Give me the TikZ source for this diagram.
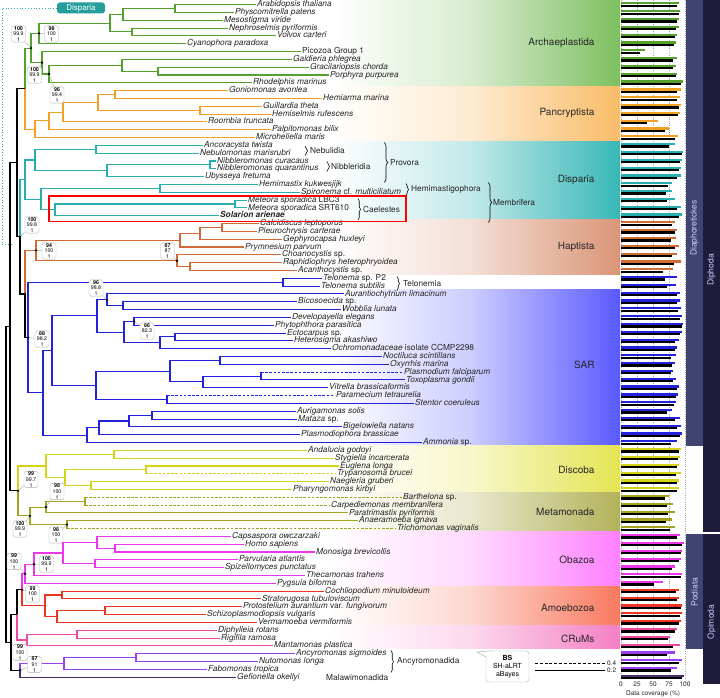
\documentclass[tikz,border=0pt]{standalone}
\usepackage{fontspec}
\setmainfont{TeX Gyre Heros}
\usetikzlibrary{calc,decorations.pathreplacing}

% line colours
\definecolor{carc}{HTML}{56A02E}
\definecolor{cpan}{HTML}{F2A024}
\definecolor{cdis}{HTML}{28AEAE}
\definecolor{chap}{HTML}{D06A36}
\definecolor{csar}{HTML}{2222DC}
\definecolor{cdsc}{HTML}{D4D414}
\definecolor{cmet}{HTML}{A3A322}
\definecolor{coba}{HTML}{EC36EC}
\definecolor{camo}{HTML}{EC3522}
\definecolor{ccru}{HTML}{EC4AA2}
\definecolor{canc}{HTML}{9A40EE}
\definecolor{cmal}{HTML}{4B2D6B}
% band colours
\definecolor{barc}{HTML}{7DC060}
\definecolor{bpan}{HTML}{F9BC68}
\definecolor{bdis}{HTML}{38B7B7}
\definecolor{bhap}{HTML}{DA9577}
\definecolor{bsar}{HTML}{5A5AFF}
\definecolor{bdsc}{HTML}{E4E453}
\definecolor{bmet}{HTML}{B2B25A}
\definecolor{boba}{HTML}{FF80FF}
\definecolor{bamo}{HTML}{F9795F}
\definecolor{bcru}{HTML}{F57FC3}
\definecolor{slate}{HTML}{3F4470}
\definecolor{navy}{HTML}{1F1C3B}

\tikzset{
  leaf/.style={anchor=west, inner xsep=1pt, inner ysep=0pt, text height=5.8pt, text depth=1.6pt, text=black!85, font=\fontsize{8.3}{9}\selectfont\itshape},
  branch/.style={line width=1.05pt},
  covbar/.style={line width=2.2pt},
  gridline/.style={gray!70, line width=0.4pt, dash pattern=on 0.6pt off 1.6pt},
  grp/.style={anchor=east, text=black!85, font=\fontsize{10}{12}\selectfont},
  clab/.style={anchor=west, inner sep=0pt, text=black!85, font=\fontsize{8.3}{10}\selectfont},
  axlab/.style={inner sep=0pt, text=black!85, font=\fontsize{6.5}{8}\selectfont},
  brc/.style={decorate, decoration={brace, amplitude=#1}, line width=0.6pt},
  brc/.default=2.5pt,
  supbox/.style={draw=gray!60, fill=white, rounded corners=1.8pt, inner sep=0.6pt, minimum width=14pt, align=center, font=\fontsize{5.3}{5.6}\selectfont},
  suptail/.style={gray!60, line width=0.5pt},
  sidelab/.style={rotate=90, text=white!80!blue, font=\fontsize{8.5}{10}\selectfont},
  tip pfal/.style={dash pattern=on 2.6pt off 1.6pt},
  tip pmec/.style={dash pattern=on 2.6pt off 1.6pt},
  tip tryp/.style={dash pattern=on 2.6pt off 1.6pt},
  tip bart/.style={dash pattern=on 2.6pt off 1.6pt},
  tip carp/.style={dash pattern=on 2.6pt off 1.6pt},
  tip tric/.style={dash pattern=on 2.6pt off 1.6pt}
}

% internal node: name, x, first child, second child, colour of each branch
\newcommand\mkclade[6]{%
  \path let \p1=(#3), \p2=(#4) in coordinate (#1) at (#2pt,{(\y1+\y2)/2});
  \draw[branch, #5, line cap=rect] (#1) -- (#1 |- #3);
  \draw[branch, #5, tip #3/.try] (#1 |- #3) -- (#3);
  \draw[branch, #6, line cap=rect] (#1) -- (#1 |- #4);
  \draw[branch, #6, tip #4/.try] (#1 |- #4) -- (#4);}

% support callout: node, box position, BS, SH-aLRT, aBayes
\newcommand\mksup[5]{%
  \node[supbox] (sup#1) at (#2) {\textbf{#3}\\#4\\#5};
  \draw[suptail] (sup#1) -- (#1);
  \fill (#1) circle (1.3pt);}

% group band with fading colour
\newcommand\mkband[3]{%
  \shade[left color=white, right color=#3!30] (330,#1) rectangle (470.5,#2);
  \shade[left color=#3!30, right color=#3] (470,#1) rectangle (620,#2);}

\begin{document}
\begin{tikzpicture}[x=1pt, y=-1pt]
\useasboundingbox (0,0) rectangle (720,698);

% Bands
\mkband{0}{86.6}{barc}
\mkband{86.6}{141.3}{bpan}
\mkband{141.3}{219.4}{bdis}
\mkband{219.4}{274}{bhap}
\mkband{289.7}{445.9}{bsar}
\mkband{445.9}{492.7}{bdsc}
\mkband{492.7}{531.8}{bmet}
\mkband{531.8}{586.5}{boba}
\mkband{586.5}{625.5}{bamo}
\mkband{625.5}{648.9}{bcru}

% Coverage grid
\foreach \v in {0,25,50,75,100}
  \draw[gridline] ({621+0.64*\v},0) -- ({621+0.64*\v},679);

% Disparia alternative position
\node[fill=cdis!90!black, text=white, rounded corners=3pt, minimum width=48pt, minimum height=11pt, inner sep=0pt, font=\fontsize{8}{9}\selectfont] (dlab) at (81,8) {Disparia};
\coordinate (dend) at (12,244);
\draw[cdis, line width=0.8pt, dash pattern=on 0.8pt off 2pt] (dlab.west) -| (2,244) -- (dend);

% Leaves and coverage bars
\foreach [count=\i] \nm/\tx/\lab/\col/\va/\vb in {%
arab/256/Arabidopsis thaliana/carc/90/88,%
phys/234/Physcomitrella patens/carc/92/90,%
meso/223/Mesostigma viride/carc/90/88,%
neph/228/Nephroselmis pyriformis/carc/91/86,%
volv/276/Volvox carteri/carc/88/84,%
cyan/186/Cyanophora paradoxa/carc/86/83,%
pico/301/\upshape Picozoa Group 1/carc/37/30,%
gald/292/Galdieria phlegrea/carc/87/82,%
grac/309/Gracilariopsis chorda/carc/86/82,%
porp/329/Porphyra purpurea/carc/88/86,%
rhod/252/Rhodelphis marinus/carc/97/94,%
goni/228/Goniomonas avonlea/cpan/93/88,%
hemi/322/Hemiarma marina/cpan/92/87,%
guil/262/Guillardia theta/cpan/94/90,%
hsel/271/Hemiselmis rufescens/cpan/92/89,%
room/207/Roombia truncata/cpan/58/40,%
palp/271/Palpitomonas bilix/cpan/75/69,%
micr/255/Microheliella maris/cpan/89/85,%
anco/203/Ancoracysta twista/cdis/85/75,%
nebu/199/Nebulomonas marisrubri/cdis/97/95,%
nib1/216/Nibbleromonas curacaus/cdis/95/92,%
nib2/216/Nibbleromonas quarantinus/cdis/94/90,%
ubys/204/Ubysseya fretuma/cdis/93/88,%
hmas/258/Hemimastix kukwesjijk/cdis/80/74,%
spir/300/Spironema \upshape cf. \itshape multiciliatum/cdis/80/70,%
met1/247/Meteora sporadica \upshape LBC3/cdis/84/72,%
met2/247/Meteora sporadica \upshape SRT610/cdis/93/88,%
sola/219/\bfseries Solarion arienae/cdis/95/90,%
calc/259/Calcidiscus leptoporus/chap/85/80,%
pleu/257/Pleurochrysis carterae/chap/88/84,%
geph/282/Gephyrocapsa huxleyi/chap/86/78,%
prym/244/Prymnesium parvum/chap/90/85,%
choa/281/Choanocystis \upshape sp./chap/88/80,%
raph/282/Raphidiophrys heterophryoidea/chap/93/83,%
acan/297/Acanthocystis \upshape sp./chap/82/66,%
tel1/322/Telonema \upshape sp. P2/csar/87/69,%
tel2/320/Telonema subtilis/csar/86/72,%
aura/344/Aurantiochytrium limacinum/csar/92/88,%
bico/297/Bicosoecida \upshape sp./csar/92/88,%
wobb/341/Wobblia lunata/csar/94/89,%
deve/291/Developayella elegans/csar/96/92,%
phyt/274/Phytophthora parasitica/csar/97/95,%
ecto/286/Ectocarpus \upshape sp./csar/96/92,%
hete/293/Heterosigma akashiwo/csar/90/85,%
ochr/331/Ochromonadaceae \upshape isolate CCMP2298/csar/88/84,%
noct/382/Noctiluca scintillans/csar/86/78,%
oxyr/389/Oxyrrhis marina/csar/84/80,%
pfal/403/Plasmodium falciparum/csar/82/78,%
toxo/405/Toxoplasma gondii/csar/86/82,%
vitr/328/Vitrella brassicaformis/csar/91/88,%
pmec/335/Paramecium tetraurelia/csar/89/86,%
sten/414/Stentor coeruleus/csar/86/83,%
auri/296/Aurigamonas solis/csar/80/72,%
mata/297/Mataza \upshape sp./csar/92/85,%
bige/342/Bigelowiella natans/csar/94/88,%
pbra/300/Plasmodiophora brassicae/csar/96/92,%
ammo/422/Ammonia \upshape sp./csar/88/78,%
anda/307/Andalucia godoyi/cdsc/94/91,%
styg/334/Stygiella incarcerata/cdsc/92/89,%
eugl/339/Euglena longa/cdsc/90/87,%
tryp/336/Trypanosoma brucei/cdsc/93/86,%
naeg/329/Naegleria gruberi/cdsc/90/87,%
phar/292/Pharyngomonas kirbyi/cdsc/91/88,%
bart/402/Barthelona \upshape sp./cmet/75/68,%
carp/330/Carpediemonas membranifera/cmet/81/72,%
ptri/348/Paratrimastix pyriformis/cmet/84/73,%
anae/358/Anaeramoeba ignava/cmet/80/70,%
tric/396/Trichomonas vaginalis/cmet/84/76,%
caps/231/Capsaspora owczarzaki/coba/92/88,%
homo/244/Homo sapiens/coba/98/95,%
mono/315/Monosiga brevicollis/coba/96/93,%
parv/238/Parvularia atlantis/coba/93/90,%
spiz/224/Spizellomyces punctatus/coba/85/80,%
thec/305/Thecamonas trahens/coba/95/93,%
pygs/276/Pygsuia biforma/coba/66/51,%
coch/324/Cochliopodium minutoideum/camo/90/86,%
stra/261/Stratorugosa tubuloviscum/camo/90/87,%
prot/242/Protostelium aurantium \upshape var. \itshape fungivorum/camo/96/93,%
schi/206/Schizoplasmodiopsis vulgaris/camo/95/92,%
verm/257/Vermamoeba vermiformis/camo/93/90,%
diph/217/Diphylleia rotans/ccru/88/85,%
rigi/220/Rigifila ramosa/ccru/77/73,%
mant/273/Mantamonas plastica/ccru/92/82,%
ancy/295/Ancyromonas sigmoides/canc/85/72,%
nuto/258/Nutomonas longa/canc/96/90,%
fabo/207/Fabomonas tropica/canc/87/78,%
gefi/236/Gefionella okellyi/cmal/98/96%
} {
  \pgfmathsetmacro\yy{4.6+(\i-1)*7.82}
  \node[leaf] (\nm) at (\tx,\yy) {\lab};
  \draw[covbar, color=\col] (621,{\yy-1.2}) -- ++({0.64*\va},0);
  \draw[covbar] (621,{\yy+1.2}) -- ++({0.64*\vb},0);
}

% Archaeplastida
\mkclade{ap1}{175}{arab}{phys}{carc}{carc}
\mkclade{ap2}{123}{ap1}{meso}{carc}{carc}
\mkclade{ap3}{132}{neph}{volv}{carc}{carc}
\mkclade{chl}{110}{ap2}{ap3}{carc}{carc}
\mkclade{chg}{39}{chl}{cyan}{carc}{carc}
\mkclade{rh1}{158}{grac}{porp}{carc}{carc}
\mkclade{rh2}{122}{gald}{rh1}{carc}{carc}
\mkclade{rh3}{49}{rh2}{rhod}{carc}{carc}
\mkclade{prr}{42}{pico}{rh3}{carc}{carc}
\mkclade{arc}{31}{chg}{prr}{carc}{carc}
% Pancryptista
\mkclade{cr1}{115}{goni}{hemi}{cpan}{cpan}
\mkclade{cr2}{200}{guil}{hsel}{cpan}{cpan}
\mkclade{cr3}{98}{cr1}{cr2}{cpan}{cpan}
\mkclade{cr4}{63}{cr3}{room}{cpan}{cpan}
\mkclade{cr5}{49}{cr4}{palp}{cpan}{cpan}
\mkclade{pan}{35}{cr5}{micr}{cpan}{cpan}
\mkclade{arp}{25}{arc}{pan}{carc}{cpan}
% Disparia
\mkclade{pv1}{96}{anco}{nebu}{cdis}{cdis}
\mkclade{pv2}{210}{nib1}{nib2}{cdis}{cdis}
\mkclade{pv3}{107}{pv2}{ubys}{cdis}{cdis}
\mkclade{pro}{35}{pv1}{pv3}{cdis}{cdis}
\mkclade{hm}{160}{hmas}{spir}{cdis}{cdis}
\mkclade{me}{235}{met1}{met2}{cdis}{cdis}
\mkclade{cae}{55}{me}{sola}{cdis}{cdis}
\mkclade{mem}{41}{hm}{cae}{cdis}{cdis}
\mkclade{dis}{25}{pro}{mem}{cdis}{cdis}
% Haptista
\mkclade{hp1}{222}{calc}{pleu}{chap}{chap}
\mkclade{hp2}{200}{hp1}{geph}{chap}{chap}
\mkclade{hp3}{180}{hp2}{prym}{chap}{chap}
\mkclade{ce1}{190}{raph}{acan}{chap}{chap}
\mkclade{ce2}{177}{choa}{ce1}{chap}{chap}
\mkclade{hap}{36}{hp3}{ce2}{chap}{chap}
% Telonemia and SAR
\mkclade{tel}{283}{tel1}{tel2}{csar}{csar}
\mkclade{st1}{123}{bico}{wobb}{csar}{csar}
\mkclade{st2}{107}{aura}{st1}{csar}{csar}
\mkclade{st3}{134}{deve}{phyt}{csar}{csar}
\mkclade{st4}{175}{ecto}{hete}{csar}{csar}
\mkclade{st5}{160}{st4}{ochr}{csar}{csar}
\mkclade{st6}{124}{st3}{st5}{csar}{csar}
\mkclade{str}{97}{st2}{st6}{csar}{csar}
\mkclade{al1}{220}{noct}{oxyr}{csar}{csar}
\mkclade{al2}{261}{pfal}{toxo}{csar}{csar}
\mkclade{al3}{203}{al2}{vitr}{csar}{csar}
\mkclade{al4}{170}{al1}{al3}{csar}{csar}
\mkclade{al5}{167}{pmec}{sten}{csar}{csar}
\mkclade{alv}{96}{al4}{al5}{csar}{csar}
\mkclade{sa}{52}{str}{alv}{csar}{csar}
\mkclade{rz1}{152}{auri}{mata}{csar}{csar}
\mkclade{rz2}{129}{rz1}{bige}{csar}{csar}
\mkclade{rz3}{99}{rz2}{pbra}{csar}{csar}
\mkclade{rhz}{87}{rz3}{ammo}{csar}{csar}
\mkclade{sar}{43}{sa}{rhz}{csar}{csar}
\mkclade{tsar}{28}{tel}{sar}{csar}{csar}
\mkclade{hts}{25}{hap}{tsar}{chap}{black}
\mkclade{dhts}{20}{dis}{hts}{cdis}{black}
\mkclade{dia}{17}{arp}{dhts}{black}{black}
% Discoba and Metamonada
\mkclade{jak}{114}{anda}{styg}{cdsc}{cdsc}
\mkclade{eug}{146}{eugl}{tryp}{cdsc}{cdsc}
\mkclade{hlb}{91}{naeg}{phar}{cdsc}{cdsc}
\mkclade{dc1}{65}{eug}{hlb}{cdsc}{cdsc}
\mkclade{dsc}{46}{jak}{dc1}{cdsc}{cdsc}
\mkclade{mt1}{85}{bart}{carp}{cmet}{cmet}
\mkclade{mt2}{46}{mt1}{ptri}{cmet}{cmet}
\mkclade{mt3}{67}{anae}{tric}{cmet}{cmet}
\mkclade{met}{30}{mt2}{mt3}{cmet}{cmet}
\mkclade{dm}{18}{dsc}{met}{cdsc}{cmet}
\mkclade{dip}{10}{dia}{dm}{black}{black}
% Obazoa, Amoebozoa, CRuMs
\mkclade{ob1}{115}{homo}{mono}{coba}{coba}
\mkclade{ob2}{97}{caps}{ob1}{coba}{coba}
\mkclade{ob3}{95}{parv}{spiz}{coba}{coba}
\mkclade{ob4}{63}{ob2}{ob3}{coba}{coba}
\mkclade{ob5}{34}{ob4}{thec}{coba}{coba}
\mkclade{oba}{25}{ob5}{pygs}{coba}{coba}
\mkclade{am1}{62}{coch}{stra}{camo}{camo}
\mkclade{am2}{105}{prot}{schi}{camo}{camo}
\mkclade{am3}{57}{am2}{verm}{camo}{camo}
\mkclade{amo}{45}{am1}{am3}{camo}{camo}
\mkclade{amr}{22}{oba}{amo}{coba}{camo}
\mkclade{cm1}{77}{diph}{rigi}{ccru}{ccru}
\mkclade{crm}{27}{cm1}{mant}{ccru}{ccru}
\mkclade{pod}{17}{amr}{crm}{black}{ccru}
% Ancyromonadida and Malawimonadida
\mkclade{an1}{136}{ancy}{nuto}{canc}{canc}
\mkclade{anc}{64}{an1}{fabo}{canc}{canc}
\mkclade{anm}{20}{anc}{gefi}{canc}{cmal}
\mkclade{opi}{11}{pod}{anm}{black}{black}
\mkclade{root}{6}{dip}{opi}{black}{black}

% Meteora and Solarion
\draw[red, line width=1.3pt] (49,196) rectangle (406,221.5);

% Clade braces
\draw[brc] (305,146) -- (305,155.5);
\node[clab] (bNeb) at (310,150.9) {Nebulidia};
\draw[brc] (327,161.5) -- (327,171.5);
\node[clab] (bNib) at (331,166.6) {Nibbleridia};
\draw[brc=4pt] (384,142.5) -- (384,182.5);
\node[clab] (bPro) at (390,162.5) {Provora};
\draw[brc] (406,183.5) -- (406,195.5);
\node[clab] (bHem) at (411,189.5) {Hemimastigophora};
\draw[brc] (358,198.5) -- (358,220);
\node[clab] (bCae) at (363,209.5) {Caelestes};
\draw[brc=4pt] (488,182.5) -- (488,222.5);
\node[clab] (bMem) at (493,202.5) {Membrifera};
\draw[brc] (397,276.5) -- (397,290.5);
\node[clab] (bTel) at (403,283.5) {Telonemia};
\draw[brc] (391,650.5) -- (391,672.5);
\node[clab] (bAnc) at (397,661.5) {Ancyromonadida};
\node[clab] (bMal) at (326,677.5) {Malawimonadida};

% Support values
\mksup{arc}{18.5,34}{100}{99.9}{1}
\mksup{chg}{51.5,34}{98}{100}{1}
\mksup{prr}{34.5,75}{100}{99.9}{1}
\mksup{rh3}{57,95}{96}{99.4}{1}
\mksup{dhts}{32,225}{100}{99.8}{1}
\mksup{hap}{49,251}{94}{100}{1}
\mksup{ce2}{167.5,251}{87}{87}{1}
\mksup{st2}{96,288}{96}{98.8}{1}
\mksup{st3}{147,331}{86}{82.3}{1}
\mksup{tsar}{42,339}{88}{98.2}{1}
\mksup{dm}{31,479.5}{99}{99.7}{1}
\mksup{mt2}{57,491.5}{98}{100}{1}
\mksup{met}{20,529}{100}{99.9}{1}
\mksup{mt3}{56,535}{98}{100}{1}
\mksup{oba}{14,561.5}{99}{100}{1}
\mksup{ob5}{46.5,564}{100}{99.9}{1}
\mksup{amr}{32.5,594}{99}{100}{1}
\mksup{opi}{20,652.5}{99}{100}{1}
\mksup{anm}{34.5,664.5}{87}{91}{1}

% Group names
\node[grp] (gArc) at (598,43) {Archaeplastida};
\node[grp] (gPan) at (598,113) {Pancryptista};
\node[grp] (gDis) at (598,180) {Disparia};
\node[grp] (gHap) at (598,247) {Haptista};
\node[grp] (gSar) at (598,365) {SAR};
\node[grp] (gDsc) at (598,470) {Discoba};
\node[grp] (gMet) at (598,512) {Metamonada};
\node[grp] (gOba) at (598,560) {Obazoa};
\node[grp] (gAmo) at (598,608) {Amoebozoa};
\node[grp] (gCru) at (598,639) {CRuMs};

% Supergroups
\fill[slate] (686,0) rectangle (703,445.9);
\fill[navy] (703,0) rectangle (720,531.8);
\fill[slate] (686,534) rectangle (703,648.9);
\fill[navy] (703,534) rectangle (720,684);
\node[sidelab] (sDia) at (694.5,228) {Diaphoretickes};
\node[sidelab] (sDip) at (711.5,270) {Diphoda};
\node[sidelab] (sPod) at (694.5,592) {Podiata};
\node[sidelab] (sOpi) at (711.5,622) {Opimoda};

% Legends
\node[draw=gray!60, rounded corners=3pt, minimum width=43pt, minimum height=31pt, align=center, inner sep=1pt, font=\fontsize{7}{8}\selectfont] (leg) at (507.5,666.5) {\textbf{BS}\\SH-aLRT\\aBayes};
\coordinate (legtip) at (477,652);
\filldraw[fill=white, draw=gray!60, line width=0.5pt] ([xshift=7pt]leg.north west) -- (legtip) -- ([yshift=-6pt]leg.north west);
\coordinate (sb4) at (535,663);
\node[axlab, anchor=west] (sl4) at (607,663) {0.4};
\draw[line width=0.9pt, dash pattern=on 3pt off 1.8pt] (sb4) -- ([xshift=-2pt]sl4.west);
\coordinate (sb2) at (535,670);
\node[axlab, anchor=west] (sl2) at (607,670) {0.2};
\draw[line width=0.8pt] (sb2) -- ([xshift=-2pt]sl2.west);
\foreach \v in {0,25,50,75,100}
  \node[axlab] (ax\v) at ({621+0.64*\v},684) {\v};
\node[axlab] (axname) at (653,694) {Data coverage (\%)};

\end{tikzpicture}
\end{document}
